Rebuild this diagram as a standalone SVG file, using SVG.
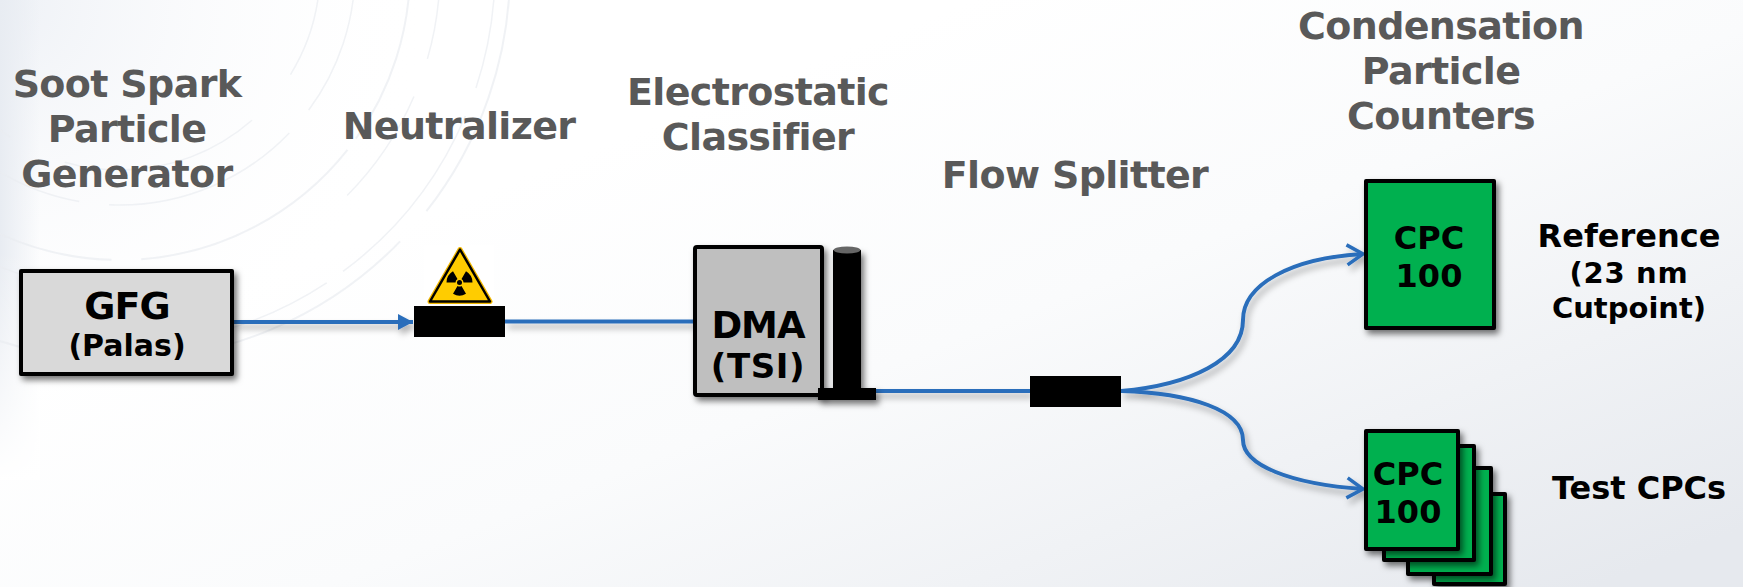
<svg xmlns="http://www.w3.org/2000/svg" width="1743" height="587" viewBox="0 0 1743 587">
<defs>
<linearGradient id="bg" x1="0.3" y1="0.3" x2="1" y2="0.9"><stop offset="0" stop-color="#ffffff"/><stop offset="0.4" stop-color="#fafbfc"/><stop offset="1" stop-color="#e6e9ee"/></linearGradient>
<radialGradient id="tl" gradientUnits="userSpaceOnUse" cx="0" cy="0" r="430"><stop offset="0" stop-color="#eef1f6"/><stop offset="1" stop-color="#ffffff" stop-opacity="0"/></radialGradient>
<linearGradient id="st" x1="0" y1="0" x2="1" y2="0"><stop offset="0" stop-color="#e8ecf2"/><stop offset="1" stop-color="#e8ecf2" stop-opacity="0"/></linearGradient>
<linearGradient id="fade" gradientUnits="userSpaceOnUse" x1="0" y1="250" x2="0" y2="480"><stop offset="0" stop-color="#fff" stop-opacity="0"/><stop offset="1" stop-color="#fff"/></linearGradient>
<filter id="sh" x="-20%" y="-20%" width="150%" height="150%"><feDropShadow dx="3" dy="4" stdDeviation="3" flood-color="#000" flood-opacity="0.55"/></filter>
<filter id="lsh" x="-5%" y="-100%" width="110%" height="400%"><feDropShadow dx="3" dy="5" stdDeviation="3" flood-color="#000" flood-opacity="0.3"/></filter>
<marker id="tri" markerUnits="userSpaceOnUse" markerWidth="16" markerHeight="18" refX="15" refY="8" orient="auto"><path d="M0 0L15 8L0 16Z" fill="#2a6ebb"/></marker>
<marker id="open" markerUnits="userSpaceOnUse" markerWidth="22" markerHeight="28" refX="18" refY="12" orient="auto"><path d="M2 2L18 12L2 22" fill="none" stroke="#2a6ebb" stroke-width="3.500"/></marker>
</defs>
<style>
text{font-family:"DejaVu Sans",Verdana,sans-serif;font-weight:700;text-anchor:middle}
.h{fill:#595959;font-size:38px;letter-spacing:-.65px}
.box{stroke:#000;stroke-width:4;stroke-linejoin:round;filter:url(#sh)}
.grn{fill:#00b050}
.c{fill:none;stroke:#2a6ebb;stroke-width:4}
.arc{fill:none;stroke:#e9ecf1;opacity:.7}
.k{fill:#000}
</style>
<rect width="1743" height="587" fill="url(#bg)"/>
<rect width="430" height="430" fill="url(#tl)"/>
<rect width="40" height="480" fill="url(#st)"/>
<rect y="250" width="40" height="230" fill="url(#fade)"/>
<g id="bg-arcs">
<circle class="arc" cx="120" cy="-30" r="390" stroke-width="2" stroke-dasharray="260 40 330 60 300 2000"/>
<circle class="arc" cx="120" cy="-30" r="375" stroke-width="1.500" stroke-dasharray="120 30 200 20 250 2000"/>
<circle class="arc" cx="120" cy="-30" r="290" stroke-width="2" stroke-dasharray="180 14 240 30 260 2000"/>
<circle class="arc" cx="120" cy="-30" r="320" stroke-width="1.500" stroke-dasharray="90 40 120 200 400 2000"/>
<circle class="arc" cx="120" cy="-30" r="235" stroke-width="1.500" stroke-dasharray="150 30 200 30 200 2000"/>
<circle class="arc" cx="120" cy="-30" r="200" stroke-width="1.500" stroke-dasharray="110 60 200 60 150 2000"/>
</g>
<g id="connectors" filter="url(#lsh)">
<path class="c" d="M233 322H413" marker-end="url(#tri)"/>
<path class="c" d="M505 321.500H693"/>
<path class="c" d="M876 391H1030"/>
<path class="c" d="M1121 391C1190 385 1243 360 1243 320C1243 285 1290 258 1363 254" marker-end="url(#open)"/>
<path class="c" d="M1121 391C1190 393 1243 410 1243 440C1243 465 1290 484 1363 489" marker-end="url(#open)"/>
</g>
<g id="label-generator"><text class="h" x="127" y="97">Soot Spark</text><text class="h" x="127" y="142">Particle</text><text class="h" x="127" y="187">Generator</text></g>
<text id="label-neutralizer" class="h" x="459" y="139">Neutralizer</text>
<g id="label-classifier"><text class="h" x="758" y="105">Electrostatic</text><text class="h" x="758" y="150">Classifier</text></g>
<text id="label-splitter" class="h" x="1075" y="188">Flow Splitter</text>
<g id="label-cpcs"><text class="h" x="1441" y="39">Condensation</text><text class="h" x="1441" y="84">Particle</text><text class="h" x="1441" y="129">Counters</text></g>
<g id="gfg"><rect class="box" x="21" y="271" width="211" height="103" fill="#d9d9d9"/><text class="k" x="127" y="319" font-size="38" letter-spacing="-1">GFG</text><text class="k" x="127" y="356" font-size="30">(Palas)</text></g>
<g id="neutralizer">
<rect x="424" y="245" width="70" height="61" fill="#fff"/>
<path d="M460 249.500L490 301.500H430Z" fill="#ffcc00" stroke="#f2b800" stroke-width="5" stroke-linejoin="round"/>
<path d="M460 249.500L490 301.500H430Z" fill="#ffcc00" stroke="#000" stroke-width="2.500" stroke-linejoin="round"/>
<path d="M453 271.200A13 13 0 0 0 446.500 282.500H455.500A4 4 0 0 1 457.500 279ZM466 271.200A13 13 0 0 1 472.500 282.500H463.500A4 4 0 0 0 461.500 279ZM453 293.800A13 13 0 0 0 466 293.800L461.500 286A4 4 0 0 1 457.500 286Z" fill="#000"/>
<circle cx="459.500" cy="282.500" r="2.500" fill="#000"/>
<rect x="414" y="306" width="91" height="31" fill="#000"/>
</g>
<g id="dma">
<rect class="box" x="695" y="247" width="127" height="148" rx="2" fill="#bfbfbf"/>
<text class="k" x="758" y="338" font-size="37" letter-spacing="-1">DMA</text><text class="k" x="758" y="378" font-size="34" letter-spacing=".6">(TSI)</text>
<g filter="url(#sh)"><rect x="833" y="250" width="28" height="142" fill="#000"/><rect x="818" y="388" width="58" height="12" fill="#000"/></g>
<ellipse cx="847" cy="250" rx="13.500" ry="3.500" fill="#666"/>
</g>
<rect id="splitter" x="1030" y="376" width="91" height="31" fill="#000"/>
<g id="cpc-reference">
<rect class="box grn" x="1366" y="181" width="128" height="147"/>
<text class="k" x="1429" y="249" font-size="32">CPC</text><text class="k" x="1429" y="287" font-size="32">100</text>
</g>
<text id="label-reference" class="k" x="1629" y="247" font-size="32">Reference</text>
<g id="label-cutpoint"><text class="k" x="1629" y="283" font-size="29" letter-spacing=".7">(23 nm</text><text class="k" x="1629" y="318" font-size="29">Cutpoint)</text></g>
<g id="cpc-test">
<rect class="box grn" x="1434" y="494" width="71" height="90"/>
<rect class="box grn" x="1408" y="468" width="83" height="106"/>
<rect class="box grn" x="1384" y="446" width="90" height="114"/>
<rect class="box grn" x="1366" y="431" width="92" height="118"/>
<text class="k" x="1408" y="485" font-size="32">CPC</text><text class="k" x="1408" y="523" font-size="32">100</text>
</g>
<text id="label-test" class="k" x="1639" y="499" font-size="32">Test CPCs</text>
</svg>
